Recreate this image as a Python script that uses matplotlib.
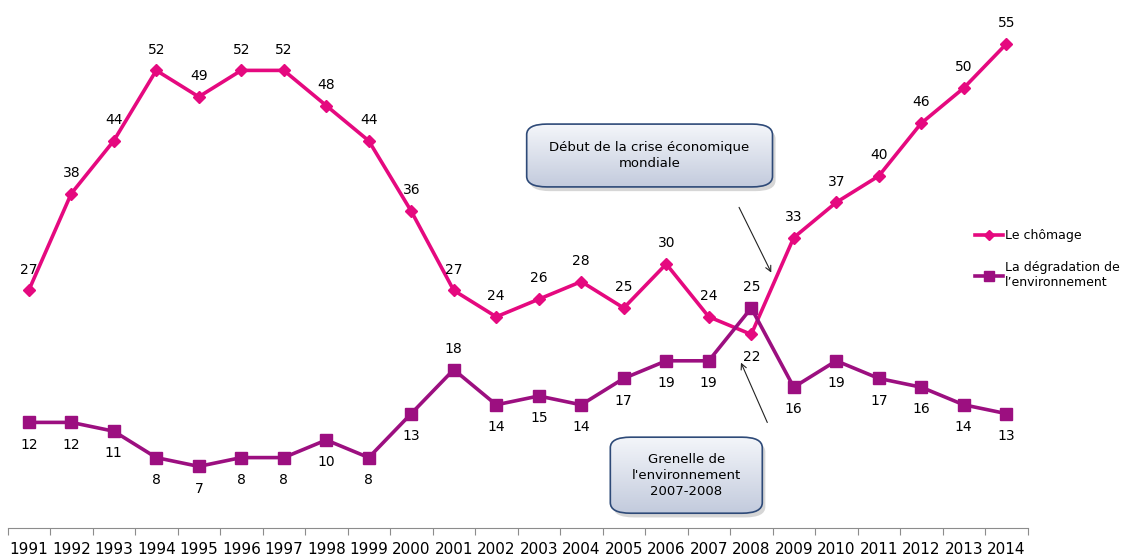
import numpy as np
import matplotlib.pyplot as plt
from matplotlib.patches import FancyBboxPatch
from matplotlib.lines import Line2D

years = [str(y) for y in range(1991, 2015)]
chomage = [27, 38, 44, 52, 49, 52, 52, 48, 44, 36, 27, 24, 26, 28, 25, 30, 24, 22, 33, 37, 40, 46, 50, 55]
environnement = [12, 12, 11, 8, 7, 8, 8, 10, 8, 13, 18, 14, 15, 14, 17, 19, 19, 25, 16, 19, 17, 16, 14, 13]

pink = '#E5097F'
purple = '#9C0F80'

plt.rcParams['font.family'] = ['Verdana', 'DejaVu Sans']

fig = plt.figure(figsize=(11.36, 5.56), dpi=100)
ax = fig.add_axes([7.5 / 1136, 28 / 556, 1020 / 1136, 528 / 556])

x = np.arange(len(years))
ax.plot(x, chomage, color=pink, lw=2.6, marker='D', ms=6, zorder=3)
ax.plot(x, environnement, color=purple, lw=2.6, marker='s', ms=9, zorder=3)

for i, v in enumerate(chomage):
    dy = -16 if years[i] == '2008' else 15
    ax.annotate(str(v), (x[i], v), xytext=(0, dy), textcoords='offset points',
                ha='center', va='center', fontsize=10)
for i, v in enumerate(environnement):
    dy = 15 if years[i] in ('2001', '2008') else -16
    ax.annotate(str(v), (x[i], v), xytext=(0, dy), textcoords='offset points',
                ha='center', va='center', fontsize=10)

ax.set_xlim(-0.5, len(years) - 0.5)
ax.set_ylim(0, 60)
for s in ['top', 'right', 'left']:
    ax.spines[s].set_visible(False)
ax.spines['bottom'].set_color('#8c8c8c')
ax.set_yticks([])
ax.set_xticks(np.arange(len(years) + 1) - 0.5)
ax.set_xticklabels([])
ax.tick_params(axis='x', which='major', length=5, color='#8c8c8c')
ax.set_xticks(x, minor=True)
ax.set_xticklabels(years, minor=True, fontsize=11)
ax.tick_params(axis='x', which='minor', length=0, pad=10)


def gradient_box(x0, y0, w, h, text):
    shadow = FancyBboxPatch((x0 + 0.003, y0 - 0.008), w, h, boxstyle='round,pad=0,rounding_size=0.02',
                            transform=ax.transAxes, facecolor='#bbbbbb', edgecolor='none',
                            alpha=0.6, zorder=4, clip_on=False)
    ax.add_patch(shadow)
    box = FancyBboxPatch((x0, y0), w, h, boxstyle='round,pad=0,rounding_size=0.02',
                         transform=ax.transAxes, facecolor='none', edgecolor='#2E4A78',
                         lw=1.2, zorder=6, clip_on=False)
    ax.add_patch(box)
    grad = np.linspace(0, 1, 100).reshape(-1, 1)
    im = ax.imshow(grad, extent=[x0, x0 + w, y0, y0 + h], transform=ax.transAxes,
                   cmap=plt.matplotlib.colors.LinearSegmentedColormap.from_list('g', ['#C3CBDD', '#F4F6FA']),
                   origin='lower', aspect='auto', zorder=5)
    im.set_clip_path(box)
    ax.text(x0 + w / 2, y0 + h / 2, text, transform=ax.transAxes, ha='center', va='center',
            fontsize=9.5, zorder=7, linespacing=1.3)


gradient_box(0.509, 0.646, 0.241, 0.119, 'Début de la crise économique\nmondiale')
gradient_box(0.591, 0.028, 0.149, 0.144, "Grenelle de\nl'environnement\n2007-2008")
ax.set_xlim(-0.5, len(years) - 0.5)
ax.set_ylim(0, 60)

ax.annotate('', xy=(0.750, 0.479), xytext=(0.716, 0.612), xycoords='axes fraction',
            arrowprops=dict(arrowstyle='->', color='#222222', lw=0.8))
ax.annotate('', xy=(0.718, 0.318), xytext=(0.746, 0.195), xycoords='axes fraction',
            arrowprops=dict(arrowstyle='->', color='#222222', lw=0.8))

handles = [Line2D([], [], color=pink, lw=2.6, marker='D', ms=5),
           Line2D([], [], color=purple, lw=2.6, marker='s', ms=7)]
fig.legend(handles, ['Le chômage', 'La dégradation de\nl’environnement'],
           loc='upper left', bbox_to_anchor=(964 / 1136, 1 - 218 / 556), frameon=False,
           fontsize=9, handlelength=2.2, handletextpad=0.2, labelspacing=1.5)

fig.savefig('out.png', dpi=100)
